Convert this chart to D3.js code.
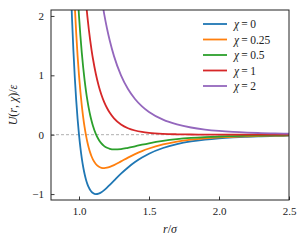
<!DOCTYPE html>
<html><head><meta charset="utf-8">
<script src="https://cdn.jsdelivr.net/npm/d3@7"></script>
<style>
body{margin:0;background:#fff;}
</style></head>
<body><svg id="c" width="306" height="245"></svg>
<script>
const rValues = [0.94,0.95,0.96,0.97,0.98,0.99,1.0,1.01,1.02,1.03,1.04,1.05,1.06,1.07,1.08,1.09,1.1,1.12,1.14,1.16,1.18,1.2,1.22,1.25,1.3,1.35,1.4,1.45,1.5,1.6,1.7,1.8,1.9,2.0,2.1,2.2,2.3,2.4,2.5];
const chiLabels = ["0","0.25","0.5","1","2"];
const colors = ["#1f77b4","#ff7f0e","#2ca02c","#d62728","#9467bd"];
const U_chi0 = [2.607,1.961,1.418,0.963,0.582,0.264,0,-0.218,-0.398,-0.544,-0.663,-0.758,-0.832,-0.889,-0.932,-0.963,-0.983,-1.000,-0.992,-0.968,-0.933,-0.891,-0.845,-0.774,-0.657,-0.552,-0.461,-0.384,-0.320,-0.224,-0.159,-0.114,-0.0832,-0.0615,-0.0461,-0.0350,-0.0268,-0.0208,-0.0163];
const U_chi025 = [null,null,2.696,2.163,1.711,1.326,1.0,0.724,0.490,0.293,0.127,-0.011,-0.127,-0.223,-0.302,-0.367,-0.419,-0.493,-0.537,-0.557,-0.562,-0.556,-0.542,-0.512,-0.450,-0.386,-0.328,-0.276,-0.233,-0.165,-0.117,-0.0847,-0.0620,-0.0459,-0.0344,-0.0261,-0.0201,-0.0156,-0.0122];
const U_chi05 = [null,null,null,null,2.840,2.388,2.0,1.666,1.378,1.131,0.918,0.735,0.578,0.443,0.328,0.230,0.146,0.0134,-0.0809,-0.147,-0.192,-0.221,-0.239,-0.249,-0.243,-0.221,-0.195,-0.169,-0.145,-0.105,-0.0760,-0.0553,-0.0407,-0.0303,-0.0228,-0.0173,-0.0133,-0.0104,-0.0081];
const U_chi1 = [null,null,null,null,null,null,null,null,null,null,2.498,2.227,1.988,1.776,1.588,1.422,1.275,1.027,0.830,0.674,0.549,0.449,0.368,0.275,0.172,0.109,0.0706,0.0463,0.0308,0.0142,0.0069,0.0035,0.0018,0.0010,0.0005,0.0003,0.0002,0.0001,0.0001];
const U_chi2 = [null,null,null,null,null,null,null,null,null,null,null,null,null,null,null,null,null,null,null,2.316,2.031,1.788,1.581,1.323,1.000,0.770,0.602,0.477,0.382,0.253,0.173,0.121,0.0868,0.0635,0.0472,0.0356,0.0272,0.0210,0.0165];
const xTicks = [1.0,1.5,2.0,2.5];
const yTicks = [-1,0,1,2];

const FONT = "Liberation Serif";
const series = [U_chi0,U_chi025,U_chi05,U_chi1,U_chi2];
const svg = d3.select("#c");
const L=51,R=289,T=10,B=200;
const x = d3.scaleLinear().domain([0.8,2.5]).range([L,R]);
const y = d3.scaleLinear().domain([-1.1,2.1]).range([B,T]);

svg.append("defs").append("clipPath").attr("id","clip").append("rect")
  .attr("x",L).attr("y",T).attr("width",R-L).attr("height",B-T);

svg.append("line").attr("x1",L).attr("x2",R).attr("y1",y(0)).attr("y2",y(0))
  .attr("stroke","#999").attr("stroke-width",0.8).attr("stroke-dasharray","3,2");

const line = d3.line().defined(d=>d[1]!==null).x(d=>x(d[0])).y(d=>y(d[1])).curve(d3.curveMonotoneX);
const g = svg.append("g").attr("clip-path","url(#clip)");
series.forEach((s,i)=>{
  g.append("path").datum(rValues.map((r,j)=>[r,s[j]]))
   .attr("d",line).attr("fill","none").attr("stroke",colors[i]).attr("stroke-width",1.8);
});

const fmtX = d=>d3.format(".1f")(d);
const fmtY = d=>d<0?"\u2212"+Math.abs(d):String(d);
const xa = svg.append("g").attr("transform",`translate(0,${B})`)
  .call(d3.axisBottom(x).tickValues(xTicks).tickSize(-3.5).tickPadding(7).tickFormat(fmtX));
const ya = svg.append("g").attr("transform",`translate(${L},0)`)
  .call(d3.axisLeft(y).tickValues(yTicks).tickSize(-3.5).tickPadding(7).tickFormat(fmtY));
[xa,ya].forEach(a=>{
  a.attr("font-family",FONT).attr("font-size",11);
  a.select(".domain").remove();
  a.selectAll("line").attr("stroke","#222").attr("stroke-width",0.9);
  a.selectAll("text").attr("fill","#222");
});

svg.append("rect").attr("x",L).attr("y",T).attr("width",R-L).attr("height",B-T)
  .attr("fill","none").attr("stroke","#222").attr("stroke-width",1);

const xl = svg.append("text").attr("x",(L+R)/2).attr("y",233).attr("text-anchor","middle")
  .attr("font-family",FONT).attr("font-size",12).attr("fill","#222");
xl.append("tspan").attr("font-style","italic").text("r");
xl.append("tspan").text("/");
xl.append("tspan").attr("font-style","italic").text("σ");

const yl = svg.append("text").attr("transform",`translate(17,${(T+B)/2}) rotate(-90)`)
  .attr("text-anchor","middle").attr("font-family",FONT).attr("font-size",12).attr("fill","#222");
yl.append("tspan").attr("font-style","italic").text("U");
yl.append("tspan").text("(");
yl.append("tspan").attr("font-style","italic").text("r");
yl.append("tspan").text(", ");
yl.append("tspan").attr("font-style","italic").text("χ");
yl.append("tspan").text(")/");
yl.append("tspan").attr("font-style","italic").text("ε");

chiLabels.forEach((c,i)=>{
  const yy = 24 + i*15.5;
  svg.append("line").attr("x1",203).attr("x2",227).attr("y1",yy).attr("y2",yy)
    .attr("stroke",colors[i]).attr("stroke-width",1.8);
  const t = svg.append("text").attr("x",234).attr("y",yy+4).attr("font-family",FONT)
    .attr("font-size",11.5).attr("fill","#222").attr("xml:space","preserve");
  t.append("tspan").attr("font-style","italic").text("χ");
  t.append("tspan").text("\u2009=\u2009"+c);
});
</script></body></html>
